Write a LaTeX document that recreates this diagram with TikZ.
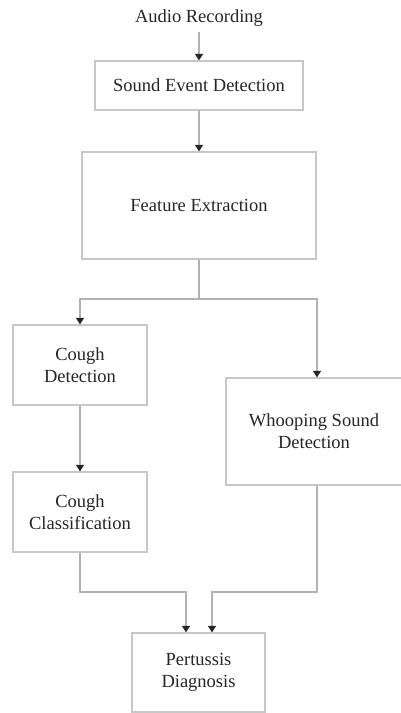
\documentclass[tikz,border=0pt]{standalone}
\usepackage{fontspec}
\setmainfont{Liberation Serif}
\usetikzlibrary{arrows.meta}
\begin{document}
\begin{tikzpicture}[x=1pt,y=-1pt,
  box/.style={draw=black!22, line width=1.3pt, fill=white, align=center, inner sep=0pt, text=black!85,
    font=\fontsize{18.5}{22}\selectfont},
  lbl/.style={align=center, inner sep=0pt, text=black!85, font=\fontsize{18.5}{22}\selectfont},
  conn/.style={draw=black!30, line width=1.2pt},
  arr/.style={conn, -{Triangle[length=6.5pt,width=8pt,color=black!85]}}
]
\useasboundingbox[fill=white] (0,0) rectangle (401,713);
\node[lbl] (audio) at (199,18) {Audio Recording};
\node[box, minimum width=208pt, minimum height=49pt] (sed) at (199,85.5) {Sound Event Detection};
\node[box, minimum width=234pt, minimum height=107pt] (fe) at (199,205.5) {Feature Extraction};
\node[box, minimum width=134pt, minimum height=80pt] (cd) at (80,365) {Cough\\Detection};
\node[box, minimum width=134pt, minimum height=80pt] (cc) at (80,512) {Cough\\Classification};
\node[box, minimum width=176pt, minimum height=107pt] (wsd) at (314,431.5) {Whooping Sound\\Detection};
\node[box, minimum width=133pt, minimum height=79pt] (pd) at (198.5,672.5) {Pertussis\\Diagnosis};
\coordinate (br) at (199,299);
\coordinate (brl) at (80,299);
\coordinate (brr) at (317,299);
\coordinate (mll) at (80,592);
\coordinate (mlx) at (186,592);
\coordinate (mrr) at (317,592);
\coordinate (mrx) at (212,592);
\draw[arr] (audio.south |- 0,32) -- (audio.south |- sed.north);
\draw[arr] (sed.south) -- (fe.north);
\draw[conn] (fe.south) -- (br);
\draw[arr] (br) -- (brl) -- (cd.north);
\draw[arr] (br) -- (brr) -- (brr |- wsd.north);
\draw[arr] (cd.south) -- (cc.north);
\draw[arr] (cc.south) -- (mll) -- (mlx) -- (mlx |- pd.north);
\draw[arr] (brr |- wsd.south) -- (mrr) -- (mrx) -- (mrx |- pd.north);
\end{tikzpicture}
\end{document}
